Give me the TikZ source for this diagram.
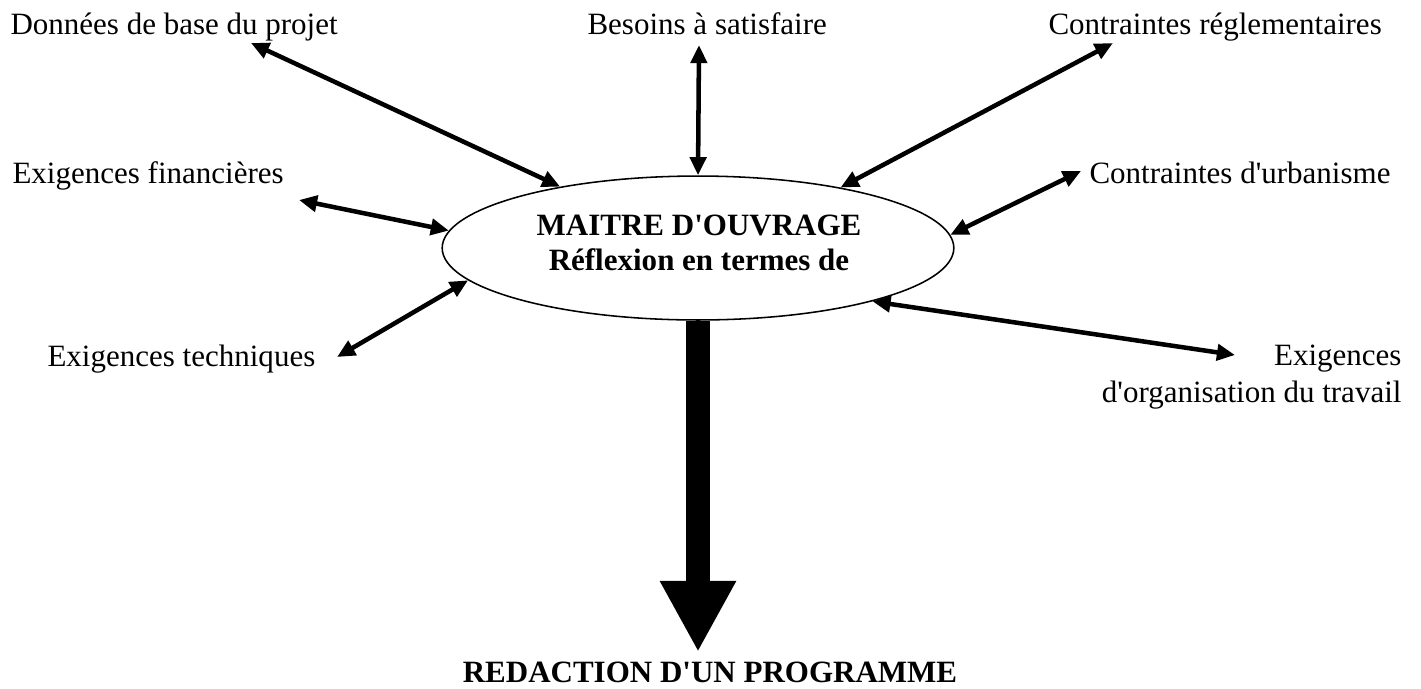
\documentclass[tikz,border=0pt]{standalone}
\usepackage{fontspec}
\setmainfont{Liberation Serif}
\usetikzlibrary{arrows.meta,shapes.geometric}
\newcommand{\sq}{\textquotesingle}
\tikzset{
  lbl/.style={inner sep=0pt, font=\fontsize{12pt}{14.3pt}\selectfont},
  boldlbl/.style={inner sep=0pt, font=\fontsize{12pt}{13.5pt}\selectfont\bfseries},
  biarrow/.style={line width=1.75pt,
    {Triangle[length=7pt,width=6.2pt]}-{Triangle[length=7pt,width=6.2pt]}},
  bigarrow/.style={line width=9.3pt, -{Triangle[length=27.5pt,width=27.5pt]}},
  oval/.style={ellipse, draw, line width=0.6pt, inner sep=0pt,
    minimum width=198pt, minimum height=55.7pt}
}
\begin{document}
\begin{tikzpicture}[x=0.387pt,y=-0.387pt]
\useasboundingbox (0,0) rectangle (1421,688);
% central ellipse
\node[oval] (m) at (698,248) {};
\node[boldlbl, align=center] (mt) at (699,243) {MAITRE D\sq OUVRAGE\\Réflexion en termes de};
% labels
\node[lbl, anchor=base west] (ld) at (10,34) {Données de base du projet};
\node[lbl, anchor=base west] (lb) at (587,34) {Besoins à satisfaire};
\node[lbl, anchor=base west] (lr) at (1048,34) {Contraintes réglementaires};
\node[lbl, anchor=base west] (lf) at (12,183) {Exigences financières};
\node[lbl, anchor=base west] (lu) at (1089,183) {Contraintes d\sq urbanisme};
\node[lbl, anchor=base west] (lt) at (47,366) {Exigences techniques};
\node[lbl, anchor=east, align=right] (lo) at (1402,377) {Exigences\\d\sq organisation du travail};
\node[boldlbl, anchor=base] (lp) at (710,682) {REDACTION D\sq UN PROGRAMME};
% free ends of connectors
\coordinate (cd) at (251,43);
\coordinate (cb) at (699,45);
\coordinate (cr) at (1113,43);
\coordinate (cf) at (299,200);
\coordinate (cu) at (1081,171);
\coordinate (ct) at (337,357);
\coordinate (co) at (1235,355);
\coordinate (cp) at (699,652);
% connectors
\draw[biarrow] (cd) -- (m.156);
\draw[biarrow] (cb) -- (m.north);
\draw[biarrow] (cr) -- (m.23);
\draw[biarrow] (cf) -- (m.176);
\draw[biarrow] (cu) -- (m.3.5);
\draw[biarrow] (ct) -- (m.188);
\draw[biarrow] (co) -- (m.-17);
\draw[bigarrow] (m.south) -- (m.south |- cp);
\end{tikzpicture}
\end{document}
